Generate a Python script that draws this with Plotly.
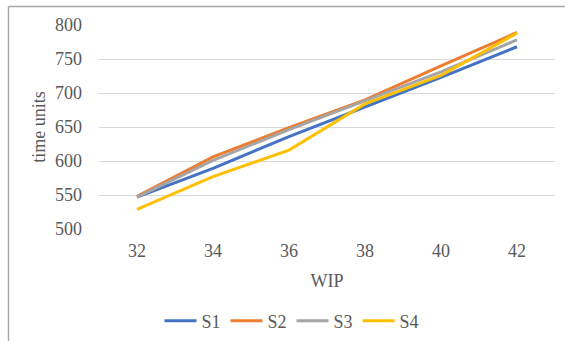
import plotly.graph_objects as go

wip = ["32", "34", "36", "38", "40", "42"]
s1 = [547, 589, 636, 679, 723, 768]
s2 = [548, 606, 649, 690, 740, 789]
s3 = [547, 601, 646, 688, 731, 778]
s4 = [529, 577, 616, 684, 726, 788]
names = ["S1", "S2", "S3", "S4"]
colors = ["#4472C4", "#ED7D31", "#A5A5A5", "#FFC000"]

L, R, T, B = 99, 10, 25, 112
W, H = 565, 341
pw, ph = W - L - R, H - T - B

fig = go.Figure()
for n, ys, c in zip(names, [s1, s2, s3, s4], colors):
    fig.add_trace(go.Scatter(x=wip, y=ys, name=n, mode="lines",
                             line=dict(color=c, width=3)))

def px_x(p):
    return (p - L) / pw

def px_y(p):
    return (H - B - p) / ph

fig.add_shape(type="line", xref="paper", yref="paper",
              x0=px_x(8.5), x1=px_x(566), y0=px_y(6.5), y1=px_y(6.5),
              line=dict(color="#A6A6A6", width=1.5))
fig.add_shape(type="line", xref="paper", yref="paper",
              x0=px_x(8.5), x1=px_x(8.5), y0=px_y(6.5), y1=px_y(342),
              line=dict(color="#A6A6A6", width=1.5))

font = dict(family="Liberation Serif", size=18, color="#595959")
fig.update_layout(
    width=W, height=H,
    margin=dict(l=L, r=R, t=T, b=B, autoexpand=False),
    paper_bgcolor="white", plot_bgcolor="white",
    font=font,
    showlegend=True,
    legend=dict(orientation="h", x=px_x(292), xanchor="center",
                y=px_y(321), yanchor="middle", font=font,
                itemwidth=32, tracegroupgap=0),
    xaxis=dict(type="category", range=[-0.5, 5.5], showgrid=False,
               showline=False, zeroline=False, ticks="",
               ticklabelstandoff=9, automargin=False,
               title=dict(text="WIP", font=font, standoff=14)),
    yaxis=dict(range=[500, 800], dtick=50, showgrid=True,
               gridcolor="#D9D9D9", gridwidth=1, zeroline=False,
               showline=False, ticks="", ticklabelstandoff=16,
               automargin=False,
               title=dict(text="time units", font=font, standoff=4)),
)
fig.write_html("out.html")
